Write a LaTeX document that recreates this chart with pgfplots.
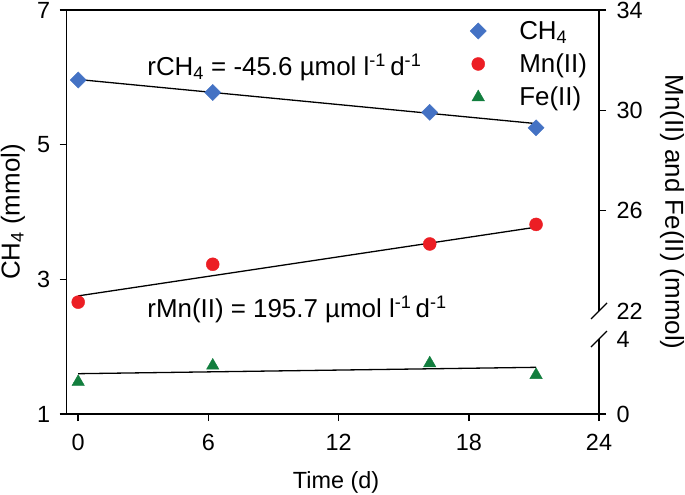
\documentclass[border=0pt]{standalone}
\usepackage{pgfplots}
\pgfplotsset{compat=1.18}
\usepackage{pgfplotstable}
\usepackage{fontspec}
\setmainfont{Liberation Sans}

\definecolor{chblue}{RGB}{68,114,196}
\definecolor{mnred}{RGB}{236,30,36}
\definecolor{fegreen}{RGB}{18,126,62}

% time (d) and concentrations (mmol)
\pgfplotstableread{
day  ch4
0    5.96
6.2  5.775
16.2 5.48
21.1 5.25
}\chfour
\pgfplotstableread{
day  mn
0    22.35
6.2  23.86
16.2 24.67
21.1 25.45
}\mntab
\pgfplotstableread{
day  fe
0    1.71
6.2  2.58
16.2 2.70
21.1 2.08
}\fetab

\newcommand{\labfont}{\fontsize{26}{30}\selectfont}
\newcommand{\tickfont}{\fontsize{23.5}{28}\selectfont}

\pgfplotsset{
  panel/.style={
    width=532.3bp, height=404bp, scale only axis,
    xmin=-0.53, xmax=24,
    font=\tickfont,
    tick label style={font=\tickfont},
    /pgf/number format/assume math mode=true,
    tick align=outside, major tick length=7bp,
    every tick/.style={black, line width=1.5bp},
    axis line style={line width=1.5bp},
    clip=false,
  },
  fit/.style={black, line width=1.3bp, forget plot},
}

\begin{document}
\begin{tikzpicture}
% CH4 (left axis)
\begin{axis}[panel,
  axis x line*=bottom, axis y line*=left,
  ymin=1, ymax=7, ytick={1,3,5,7},
  xtick={0,6,12,18,24},
  yticklabel style={xshift=-6bp},
  xticklabel style={yshift=-10bp},
  legend cell align=left,
  legend style={at={(0.752,0.985)}, anchor=north west, draw=none, fill=none,
    font=\labfont, row sep=7bp,
    nodes={inner ysep=3bp},
    /tikz/every odd column/.append style={column sep=31bp}},
]
\addplot[only marks, mark=square*, mark size=5.7bp,
  mark options={rotate=45, fill=chblue, draw=chblue}] table[x=day, y=ch4] {\chfour};
\addlegendentry{CH\textsubscript{4}}
\addlegendimage{only marks, mark=*, mark size=6.5bp, mark options={fill=mnred, draw=mnred}}
\addlegendentry{Mn(II)}
\addlegendimage{only marks, mark=triangle*, mark size=7.2bp, mark options={fill=fegreen, draw=fegreen}}
\addlegendentry{Fe(II)}
\addplot[fit] coordinates {(0,5.968) (21.1,5.313)};
\draw[line width=1.5bp] (rel axis cs:0,1) -- (rel axis cs:1,1);
\node[anchor=west, inner sep=0pt, font=\labfont] at (axis cs:3.18,6.15) {rCH\textsubscript{4} = -45.6 µmol l\textsuperscript{-1}\,d\textsuperscript{-1}};
\node[anchor=west, inner sep=0pt, font=\labfont] at (axis cs:3.18,2.56) {rMn(II) = 195.7 µmol l\textsuperscript{-1}\,d\textsuperscript{-1}};
\node[rotate=90, font=\labfont] at ([xshift=-53.7bp]rel axis cs:0,0.5) {CH\textsubscript{4} (mmol)};
\node at ([yshift=-68bp]rel axis cs:0.506,0) {Time (d)};
\coordinate (sw) at (rel axis cs:0,0);
\coordinate (ne) at (rel axis cs:1,1);
\end{axis}

% Mn(II) (right axis, upper part)
\begin{axis}[panel, hide x axis,
  axis y line*=right, axis line style={draw=none},
  ymin=17.89, ymax=34, ytick={26,30,34},
  yticklabel style={xshift=7bp},
  extra y ticks={22}, extra y tick style={tick style={draw=none}},
]
\addplot[only marks, mark=*, mark size=6.5bp,
  mark options={fill=mnred, draw=mnred}] table[x=day, y=mn] {\mntab};
\addplot[fit] coordinates {(0,22.60) (21.1,25.34)};
\draw[line width=1.5bp] (axis cs:24,22) -- (axis cs:24,34);
\draw[line width=1.3bp] ([shift={(-8bp,-8bp)}]axis cs:24,22) -- ([shift={(8bp,8bp)}]axis cs:24,22);
\node[rotate=-90, font=\labfont] at ([xshift=73bp]rel axis cs:1,0.5) {Mn(II) and Fe(II) (mmol)};
\end{axis}

% Fe(II) (right axis, lower part)
\begin{axis}[panel, hide x axis,
  axis y line*=right, axis line style={draw=none},
  ymin=0, ymax=21.55, ytick={0},
  yticklabel style={xshift=7bp},
  extra y ticks={4}, extra y tick style={tick style={draw=none}},
]
\addplot[only marks, mark=triangle*, mark size=7.2bp,
  mark options={fill=fegreen, draw=fegreen}] table[x=day, y=fe] {\fetab};
\addplot[fit] coordinates {(0,2.15) (21.1,2.49)};
\draw[line width=1.5bp] (axis cs:24,0) -- (axis cs:24,4);
\draw[line width=1.3bp] ([shift={(-8bp,-8bp)}]axis cs:24,4) -- ([shift={(8bp,8bp)}]axis cs:24,4);
\end{axis}

\pgfresetboundingbox
\path ([shift={(-66.7bp,-81bp)}]sw) rectangle ([shift={(86bp,10bp)}]ne);
\end{tikzpicture}
\end{document}
